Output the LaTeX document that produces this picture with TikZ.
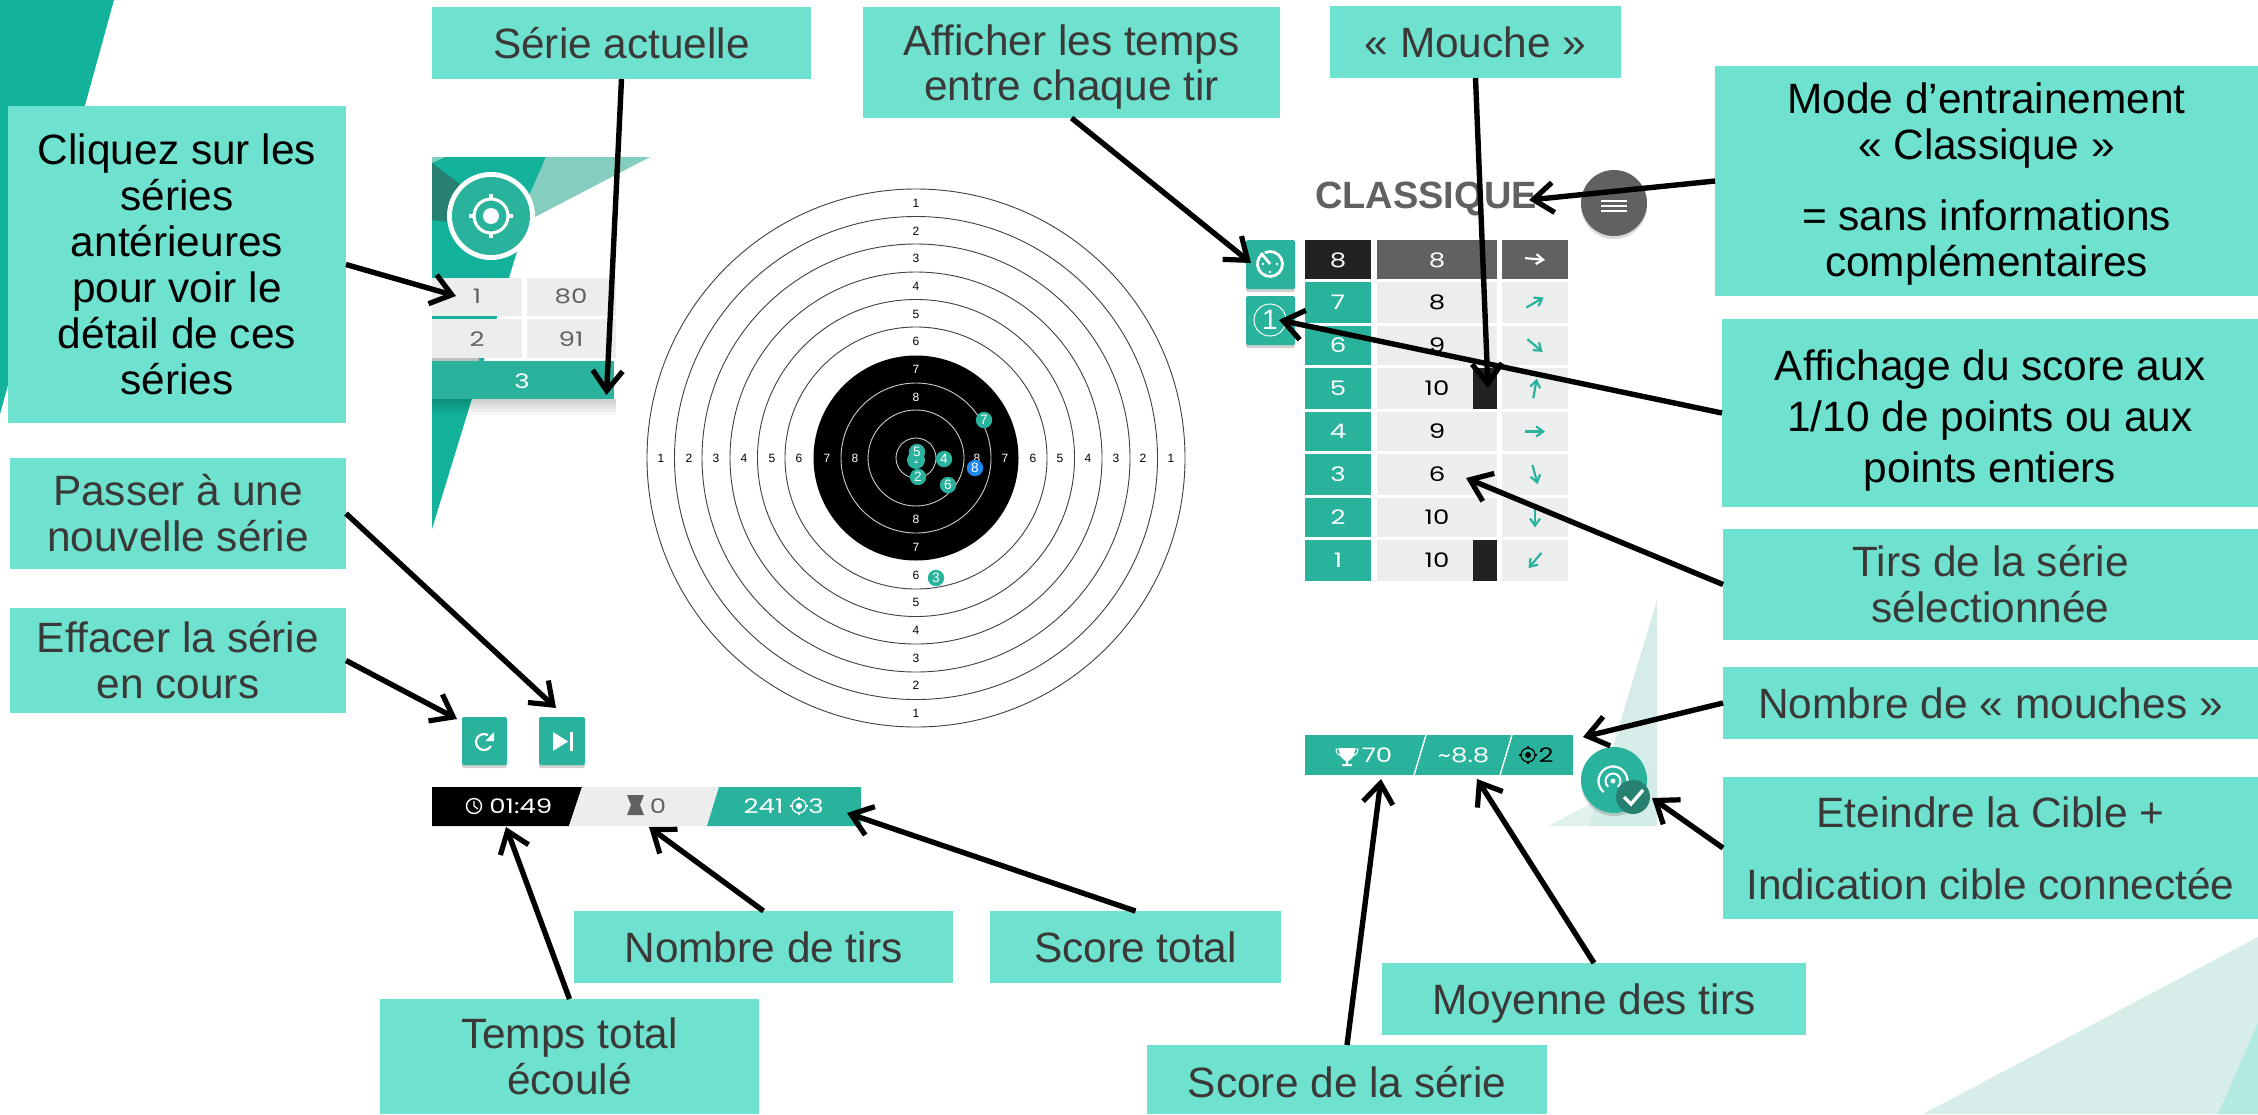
\documentclass[tikz,border=0pt]{standalone}
\usepackage{fontspec}
\setmainfont{Liberation Sans}
\newfontfamily\tech[FakeStretch=1.3]{Poppins}
\usetikzlibrary{arrows.meta}
\definecolor{boxc}{HTML}{6EE2CE}
\definecolor{teal}{HTML}{29B39D}
\definecolor{bright}{HTML}{13B39B}
\definecolor{deep}{HTML}{288070}
\definecolor{soft}{HTML}{85CDBF}
\definecolor{txt}{HTML}{3B3838}
\definecolor{cell}{HTML}{ECEEED}
\definecolor{midg}{HTML}{616161}
\definecolor{nearblack}{HTML}{222222}
\definecolor{pale}{HTML}{D3ECE8}
\definecolor{shotblue}{HTML}{1E88F0}
\tikzset{
  lab/.style n args={2}{fill=boxc,inner sep=0pt,outer sep=0pt,align=center,text=txt,
    font=\fontsize{21.2}{23}\selectfont,minimum width=#1*0.5pt,minimum height=#2*0.5pt},
  conn/.style={line width=2.7pt,-{Straight Barb[length=10pt,width=15pt,line width=2.6pt]}},
  dig/.style={inner sep=0pt,font=\tech\fontsize{10}{10}\selectfont},
  ring/.style={font=\fontsize{6}{6}\selectfont,inner sep=0pt},
  shot/.style={circle,fill=teal,text=white,inner sep=0pt,minimum size=8.2pt,font=\fontsize{6.8}{6.8}\selectfont},
  mini/.style={teal,line width=1.1pt,-{Straight Barb[length=3.5pt,width=5pt]}},
  btn/.style={fill=teal,rounded corners=1pt},
  shd/.style={fill=black,opacity=0.18,rounded corners=1pt},
}
\newcommand{\dnrule}[1]{\rule{0pt}{#1pt}}
\newcommand{\tgticon}[4]{% x y R colour
  \draw[#4,line width=#3*0.09pt] (#1,#2) circle[radius=#3];
  \fill[#4] (#1,#2) circle[radius=#3*0.42];
  \foreach \aa in {0,90,180,270}
    \draw[#4,line width=#3*0.09pt] (#1,#2) ++(\aa:#3) -- ++(\aa:#3*0.3);
}
\begin{document}
\begin{tikzpicture}[x=0.5pt,y=0.5pt,yscale=-1]
\useasboundingbox (0,0) rectangle (2258,1114);
\fill[white] (0,0) rectangle (2258,1114);
% background triangles
\fill[bright] (0,0) -- (114,0) -- (0,414) -- cycle;
\fill[bright] (432,157) -- (546,157) -- (432,529) -- cycle;
\fill[soft] (546,157) -- (650,157) -- (535,217) -- (525,205) -- cycle;
\fill[soft] (432,157) -- (445,157) -- (432,163) -- cycle;
\fill[deep] (432,163) -- (460,184) -- (448,222) -- (432,220) -- cycle;
\fill[pale,opacity=0.95] (1657,600) -- (1657,826) -- (1589,826) -- cycle;
\fill[pale,opacity=0.7] (1548,826) -- (1657,769) -- (1657,826) -- cycle;
\fill[pale,opacity=0.9] (1923,1114) -- (2258,937) -- (2258,1114) -- cycle;
\fill[boxc,opacity=0.35] (2218,1114) -- (2258,1023) -- (2258,1114) -- cycle;
% logo
\fill[white] (491,216) circle[radius=44];
\fill[teal] (491,216) circle[radius=39];
\tgticon{491}{216}{17}{white}
\fill[teal] (491,216) circle[radius=14.5];
\fill[white] (491,216) circle[radius=8];
% series list
\foreach \sh in {1,...,6}
  \fill[black,opacity=0.03] (432,399) rectangle (616,{399+\sh*2.6});
\fill[cell] (432,278) rectangle (521.5,316);
\fill[cell] (526.5,278) rectangle (616,316);
\fill[bright] (432,316) rectangle (491,319);
\fill[cell] (432,319) rectangle (521.5,358);
\fill[cell] (526.5,319) rectangle (616,358);
\fill[cell!80!black] (432,358) rectangle (479,361);
\fill[teal] (432,361) rectangle (614,399);
\node[dig,text=midg] (s1) at (477,296) {1};
\node[dig,text=midg] (s80) at (571,296) {80};
\node[dig,text=midg] (s2) at (477,339) {2};
\node[dig,text=midg] (s91) at (571,339) {91};
\node[dig,text=white] (s3) at (522,381) {3};
% target
\def\cx{916}\def\cy{458}
\foreach \r in {269,241.5,214,186,158.5,131}
  \draw[black!75,line width=0.45pt] (\cx,\cy) circle[radius=\r];
\fill[black] (\cx,\cy) circle[radius=102.5];
\foreach \r in {75,48,20}
  \draw[white!80!black,line width=0.45pt] (\cx,\cy) circle[radius=\r];
\foreach \n/\d/\c in {1/255/black,2/227/black,3/200/black,4/172/black,5/144/black,6/117/black,7/89/white,8/61/white}{
  \node[ring,text=\c] (t\n) at (\cx,\cy-\d) {\n};
  \node[ring,text=\c] (b\n) at (\cx,\cy+\d) {\n};
  \node[ring,text=\c] (l\n) at (\cx-\d,\cy) {\n};
  \node[ring,text=\c] (r\n) at (\cx+\d,\cy) {\n};
}
\node[shot,minimum size=9pt,font=\fontsize{4.5}{4.5}\selectfont] (h1) at (916,460) {1};
\node[shot] (h5) at (917,452) {5};
\node[shot] (h2) at (918,477) {2};
\node[shot] (h4) at (944,459) {4};
\node[shot] (h6) at (948,485) {6};
\node[shot] (h7) at (984,420) {7};
\node[shot,fill=shotblue] (h8) at (975,468) {8};
\node[shot] (h3) at (936,578) {3};
% title
\node[inner sep=0pt,text=midg,font=\bfseries\fontsize{19}{19}\selectfont] (title) at (1426,199) {CLASSIQUE};
\fill[black,opacity=0.15] (1614,206) circle[radius=33];
\fill[midg] (1614,203) circle[radius=33];
\foreach \ly in {201,206,211}
  \draw[white,line width=1.2pt] (1601,\ly) -- (1627,\ly);
% side buttons
\fill[shd] (1246,242) rectangle (1295,292);
\fill[btn] (1246,240) rectangle (1295,289);
\fill[shd] (1246,298) rectangle (1295,348);
\fill[btn] (1246,296) rectangle (1295,345);
\draw[white,line width=1.4pt] (1270,264) ++(245:12.5) arc[start angle=245,end angle=590,radius=12.5];
\draw[white,line width=1.4pt] (1270,264) -- (1261,253);
\foreach \dx/\dy in {-7/0,7/0,0/8}
  \fill[white] (1270+\dx,264+\dy) circle[radius=1.3];
\draw[white,line width=0.5pt] (1270,320) circle[radius=16];
\node[inner sep=0pt,text=white,font=\fontsize{14}{14}\selectfont] (one) at (1270,320) {1};
% table
\fill[nearblack] (1305,240) rectangle (1371,279);
\fill[midg] (1377,240) rectangle (1497,279);
\fill[midg] (1502,240) rectangle (1568,279);
\node[dig,text=white] (idh) at (1338,260) {8};
\node[dig,text=white] (valh) at (1437,260) {8};
\draw[white,line width=1.1pt,-{Straight Barb[length=3.5pt,width=5pt]}] (1535,259) ++(5:-10) -- ++(5:20);
\foreach \yt/\yb/\id/\val/\ang in {282/323/7/8/-30,326/365/6/9/40,368/409/5/10/-80,412/451/4/9/0,454/495/3/6/75,498/537/2/10/90,540/581/1/10/130}{
  \fill[teal] (1305,\yt) rectangle (1371,\yb);
  \fill[cell] (1377,\yt) rectangle (1497,\yb);
  \fill[cell] (1502,\yt) rectangle (1568,\yb);
  \node[dig,text=white] (id\id) at (1338,{(\yt+\yb)/2}) {\id};
  \node[dig,text=black] (val\id) at (1437,{(\yt+\yb)/2}) {\val};
  \draw[mini] (1535,{(\yt+\yb)/2}) ++(\ang:-10) -- ++(\ang:20);
}
\fill[nearblack] (1473,368) rectangle (1497,409);
\fill[nearblack] (1473,540) rectangle (1497,581);
% bottom buttons
\fill[shd] (462,719) rectangle (507,768);
\fill[btn] (462,717) rectangle (507,765);
\fill[shd] (539,719) rectangle (585,768);
\fill[btn] (539,717) rectangle (585,765);
\draw[white,line width=1.1pt] (484,742) ++(30:8) arc[start angle=30,end angle=300,radius=8];
\fill[white] (494,732) -- (494,741) -- (485.5,741) -- cycle;
\fill[white] (553,732) -- (553,751) -- (568,741.5) -- cycle;
\fill[white] (570,732) rectangle (573,751);
% bottom-left bar
\fill[black] (432,787) -- (582,787) -- (569,826) -- (432,826) -- cycle;
\fill[cell] (582,787) -- (719,787) -- (707,826) -- (569,826) -- cycle;
\fill[teal] (719,787) -- (861,787) -- (861,826) -- (707,826) -- cycle;
\draw[white,line width=0.7pt] (474,806) circle[radius=7.5];
\draw[white,line width=0.6pt] (474,801) -- (474,806) -- (478,809);
\node[dig,text=white,anchor=west] (time) at (489,806) {01:49};
\fill[midg] (627,795) -- (644,795) -- (640,805) -- (644,815) -- (627,815) -- (631,805) -- cycle;
\node[dig,text=midg] (count) at (658,806) {0};
\node[dig,text=white] (tot) at (763.5,806) {241};
\tgticon{799}{806}{7}{white}
\fill[teal] (799,806) circle[radius=5.5];
\fill[white] (799,806) circle[radius=3];
\node[dig,text=white] (totm) at (816,806) {3};
% bottom-right bar
\fill[teal] (1305,735) rectangle (1573,775);
\draw[white,line width=0.7pt] (1426,735) -- (1414,775);
\draw[white,line width=0.7pt] (1512,735) -- (1500,775);
\fill[white] (1339,748) -- (1355,748) .. controls (1355,758) and (1350,760) .. (1348,761) -- (1348,764) -- (1352,764) -- (1352,766) -- (1342,766) -- (1342,764) -- (1346,764) -- (1346,761) .. controls (1344,760) and (1339,758) .. (1339,748) -- cycle;
\draw[white,line width=0.5pt] (1339,749) -- (1336,749) .. controls (1336,754) and (1339,755) .. (1341,756);
\draw[white,line width=0.5pt] (1355,749) -- (1358,749) .. controls (1358,754) and (1355,755) .. (1353,756);
\node[dig,text=white] (serscore) at (1377,755) {70};
\node[dig,text=white] (avg) at (1463.5,755) {\char"007E 8.8};
\tgticon{1528}{755}{7}{black}
\fill[teal] (1528,755) circle[radius=5.5];
\fill[black] (1528,755) circle[radius=3];
\node[dig,text=black] (nbm) at (1546,755) {2};
% power button
\fill[black,opacity=0.15] (1614,783) circle[radius=33];
\fill[teal] (1614,780) circle[radius=33];
\foreach \rr/\lw in {7.5/1.0,14.5/1.1}
  \draw[white,line width=\lw pt] (1613,781) ++(130:\rr) arc[start angle=130,end angle=410,radius=\rr];
\fill[white] (1613,781) circle[radius=2.5];
\fill[deep] (1633,797) circle[radius=17];
\draw[white,line width=1.7pt] (1624,797) -- (1631,804) -- (1643,790);
% labels
\node[lab={379}{72}] (serie) at (621.5,43) {Série actuelle};
\node[lab={338}{317},text=black] (cliq) at (177,264.5) {Cliquez sur les\\séries\\antérieures\\pour voir le\\détail de ces\\séries};
\node[lab={336}{111}] (passer) at (178,513.5) {Passer à une\\nouvelle série};
\node[lab={336}{105}] (effacer) at (178,660.5) {Effacer la série\\en cours};
\node[lab={417}{111},font=\fontsize{21.2}{22.5}\selectfont] (affich) at (1071.5,62.5) {\dnrule{19.8}Afficher les temps\\entre chaque tir};
\node[lab={291}{72}] (mouche) at (1475.5,42) {« Mouche »};
\node[lab={543}{230},text=black] (modeb) at (1986.5,181) {\dnrule{18.4}Mode d’entrainement\\« Classique »\\[12.5pt]= sans informations\\complémentaires};
\node[lab={536}{188},text=black,font=\fontsize{21.2}{25.5}\selectfont] (affichage) at (1990,413) {\dnrule{22.4}Affichage du score aux\\1/10 de points ou aux\\points entiers};
\node[lab={535}{111}] (tirs) at (1990.5,584.5) {Tirs de la série\\sélectionnée};
\node[lab={535}{72}] (nbmouches) at (1990.5,703) {Nombre de « mouches »};
\node[lab={535}{142}] (eteindre) at (1990.5,848) {Eteindre la Cible +\\[13pt]Indication cible connectée};
\node[lab={379}{72}] (nbtirs) at (763.5,947) {Nombre de tirs};
\node[lab={291}{72}] (scoretot) at (1135.5,947) {Score total};
\node[lab={379}{115}] (temps) at (569.5,1056.5) {Temps total\\écoulé};
\node[lab={424}{72}] (moyenne) at (1594,999) {\dnrule{19.5}Moyenne des tirs};
\node[lab={400}{69}] (scoreser) at (1347,1079.5) {\dnrule{18.5}Score de la série};
% arrow ends
\coordinate (eCliq) at (456,296);
\coordinate (eSerie) at (606.5,395);
\coordinate (ePasser) at (556,708);
\coordinate (eEffacer) at (457,719);
\coordinate (eAffich) at (1251,263);
\coordinate (eMouche) at (1488,388);
\coordinate (eMode) at (1529,200);
\coordinate (eAffichage) at (1279,320);
\coordinate (eTirs) at (1466,478);
\coordinate (eNb) at (1583,737);
\coordinate (eEteindre) at (1652,798);
\coordinate (eTirsN) at (649,827);
\coordinate (eTot) at (847,813);
\coordinate (eTemps) at (506,827);
\coordinate (eMoy) at (1477,779);
\coordinate (eSer) at (1381,779);
\draw[conn] (cliq.east) -- (eCliq);
\draw[conn] (serie.south) -- (eSerie);
\draw[conn] (passer.east) -- (ePasser);
\draw[conn] (effacer.east) -- (eEffacer);
\draw[conn] (affich.south) -- (eAffich);
\draw[conn] (mouche.south) -- (eMouche);
\draw[conn] (modeb.west) -- (eMode);
\draw[conn] (affichage.west) -- (eAffichage);
\draw[conn] (tirs.west) -- (eTirs);
\draw[conn] (nbmouches.west) -- (eNb);
\draw[conn] (eteindre.west) -- (eEteindre);
\draw[conn] (nbtirs.north) -- (eTirsN);
\draw[conn] (scoretot.north) -- (eTot);
\draw[conn] (temps.north) -- (eTemps);
\draw[conn] (moyenne.north) -- (eMoy);
\draw[conn] (scoreser.north) -- (eSer);
\end{tikzpicture}
\end{document}
